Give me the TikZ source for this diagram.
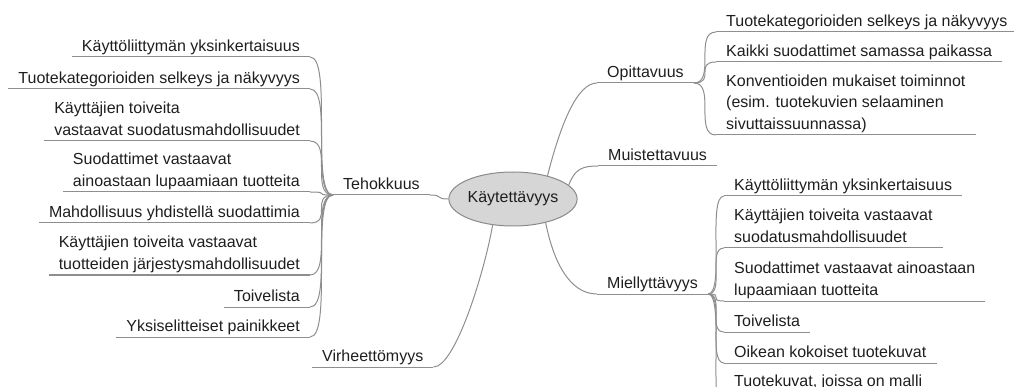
\documentclass[tikz,border=0pt]{standalone}
\usepackage{fontspec}
\setmainfont{Liberation Sans}
\usetikzlibrary{shapes.geometric}
\definecolor{edgegray}{HTML}{8E8E8E}
\definecolor{rootfill}{HTML}{D6D6D6}
\definecolor{rootline}{HTML}{8A8A8A}
\definecolor{inkcol}{HTML}{1E1E1E}

\begin{document}
\begin{tikzpicture}[x=1pt,y=-1pt,
  every node/.style={font=\fontsize{16}{21.5}\selectfont, text=inkcol},
  topic/.style={inner xsep=10pt, inner ysep=0pt, text depth=5.5pt, align=left},
  lefttopic/.style={topic, anchor=south east},
  righttopic/.style={topic, anchor=south west},
  edgeline/.style={draw=edgegray, line width=1pt},
  rootnode/.style={ellipse, draw=rootline, fill=rootfill, line width=1pt,
                   minimum width=110pt, minimum height=54pt, inner sep=0pt}]
\useasboundingbox (0,0) rectangle (1014,387);
\clip (0,0) rectangle (1014,387);

% central topic
\node[rootnode] (root) at (513,199) {Käytettävyys};

% main branches
\node[righttopic] (teh) at (333,195) {Tehokkuus};
\node[righttopic] (vir) at (312,367) {Virheettömyys};
\node[righttopic] (opi) at (597,83)  {Opittavuus};
\node[righttopic] (mui) at (598,166) {Muistettavuus};
\node[righttopic] (mie) at (597,294) {Miellyttävyys};

% Tehokkuus subtopics
\node[lefttopic] (t1) at (310,57)  {Käyttöliittymän yksinkertaisuus};
\node[lefttopic] (t2) at (310,89)  {Tuotekategorioiden selkeys ja näkyvyys};
\node[lefttopic] (t3) at (310,141) {Käyttäjien toiveita\\vastaavat suodatusmahdollisuudet};
\node[lefttopic] (t4) at (310,192) {Suodattimet vastaavat\\ainoastaan lupaamiaan tuotteita};
\node[lefttopic] (t5) at (310,223) {Mahdollisuus yhdistellä suodattimia};
\node[lefttopic] (t6) at (310,275) {Käyttäjien toiveita vastaavat\\tuotteiden järjestysmahdollisuudet};
\node[lefttopic] (t7) at (310,307) {Toivelista};
\node[lefttopic] (t8) at (310,337) {Yksiselitteiset painikkeet};

% Opittavuus subtopics
\node[righttopic] (o1) at (716,32)  {Tuotekategorioiden selkeys ja näkyvyys};
\node[righttopic] (o2) at (716,62)  {Kaikki suodattimet samassa paikassa};
\node[righttopic] (o3) at (716,135) {Konventioiden mukaiset toiminnot\\(esim. tuotekuvien selaaminen\\sivuttaissuunnassa)};

% Miellyttävyys subtopics
\node[righttopic] (m1) at (724,196) {Käyttöliittymän yksinkertaisuus};
\node[righttopic] (m2) at (724,248) {Käyttäjien toiveita vastaavat\\suodatusmahdollisuudet};
\node[righttopic] (m3) at (724,301) {Suodattimet vastaavat ainoastaan\\lupaamiaan tuotteita};
\node[righttopic] (m4) at (724,332) {Toivelista};
\node[righttopic] (m5) at (724,363) {Oikean kokoiset tuotekuvat};
\node[righttopic, text depth=27pt] (m6) at (724,413.5) {Tuotekuvat, joissa on malli};

% underlines of the topics
\foreach \n in {teh,vir,opi,mui,mie,t1,t2,t3,t4,t5,t6,t7,t8,o1,o2,o3,m1,m2,m3,m4,m5,m6}
  \draw[edgeline] (\n.south west) -- (\n.south east);

% edges from the central topic
\draw[edgeline] (root.west) .. controls +(-14,0) and +(14,0) .. (teh.south east);
\draw[edgeline] (root.232) .. controls +(-8,46) and +(22,0) .. (vir.south east);
\draw[edgeline] (root.34)  .. controls +(13,-51) and +(-20,0) .. (opi.south west);
\draw[edgeline] (root.14)  .. controls +(6,-16) and +(-16,0) .. (mui.south west);
\draw[edgeline] (root.-36) .. controls +(8,40) and +(-27,0) .. (mie.south west);

% Tehokkuus edges
\foreach \n in {t1,t2,t3,t4,t5,t6,t7,t8}
  \draw[edgeline] (teh.south west) .. controls +(-23,0) and +(23,0) .. (\n.south east);

% Opittavuus edges
\foreach \n in {o1,o2,o3}
  \draw[edgeline] (opi.south east) .. controls +(22,0) and +(-22,0) .. (\n.south west);

% Miellyttävyys edges
\foreach \n in {m1,m2,m3,m4,m5,m6}
  \draw[edgeline] (mie.south east) .. controls +(17,0) and +(-17,0) .. (\n.south west);
\end{tikzpicture}
\end{document}
